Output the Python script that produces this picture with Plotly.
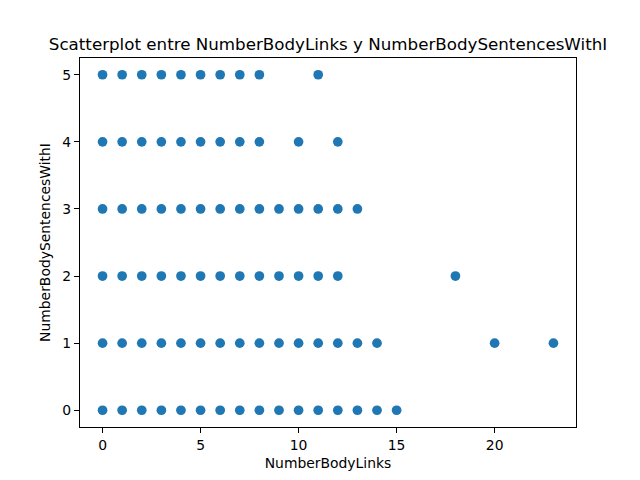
import plotly.graph_objects as pgo

# NumberBodyLinks values observed for each NumberBodySentencesWithI level
links_s0 = [0, 1, 2, 3, 4, 5, 6, 7, 8, 9, 10, 11, 12, 13, 14, 15]
links_s1 = [0, 1, 2, 3, 4, 5, 6, 7, 8, 9, 10, 11, 12, 13, 14, 20, 23]
links_s2 = [0, 1, 2, 3, 4, 5, 6, 7, 8, 9, 10, 11, 12, 18]
links_s3 = [0, 1, 2, 3, 4, 5, 6, 7, 8, 9, 10, 11, 12, 13]
links_s4 = [0, 1, 2, 3, 4, 5, 6, 7, 8, 10, 12]
links_s5 = [0, 1, 2, 3, 4, 5, 6, 7, 8, 11]
sentence_levels = [0, 1, 2, 3, 4, 5]

rows = [links_s0, links_s1, links_s2, links_s3, links_s4, links_s5]
x = []
y = []
for level, links in zip(sentence_levels, rows):
    x += links
    y += [level] * len(links)

fig = pgo.Figure()
fig.add_trace(pgo.Scatter(
    x=x, y=y, mode="markers",
    marker=dict(size=9.7, color="#1f77b4", line=dict(width=0)),
))

axis_style = dict(
    showgrid=False, zeroline=False, showline=True, mirror=True,
    linecolor="black", linewidth=1.1,
    ticks="outside", ticklen=5, tickwidth=1.1, tickcolor="black",
    tickfont=dict(family="DejaVu Sans", size=13.9, color="black"),
)

# page has an 8px body margin, so the figure box sits 8px in from the window
fig.update_layout(
    width=640, height=480,
    margin=dict(l=72, r=72, t=50, b=61),
    paper_bgcolor="white", plot_bgcolor="white",
    showlegend=False,
    font=dict(family="DejaVu Sans", color="black"),
    title=dict(
        text="Scatterplot entre NumberBodyLinks y NumberBodySentencesWithI",
        x=0.5, xref="paper", xanchor="center",
        y=1 - 36 / 480, yref="container", yanchor="middle",
        font=dict(family="DejaVu Sans", size=16.7, color="black"),
    ),
    xaxis=dict(
        range=[-1.15, 24.15], tickvals=[0, 5, 10, 15, 20],
        title=dict(text="NumberBodyLinks", standoff=6,
                   font=dict(family="DejaVu Sans", size=13.9)),
        **axis_style,
    ),
    yaxis=dict(
        range=[-0.25, 5.25], tickvals=sentence_levels,
        title=dict(text="NumberBodySentencesWithI", standoff=8,
                   font=dict(family="DejaVu Sans", size=13.9)),
        **axis_style,
    ),
)

fig.write_html("out.html")
